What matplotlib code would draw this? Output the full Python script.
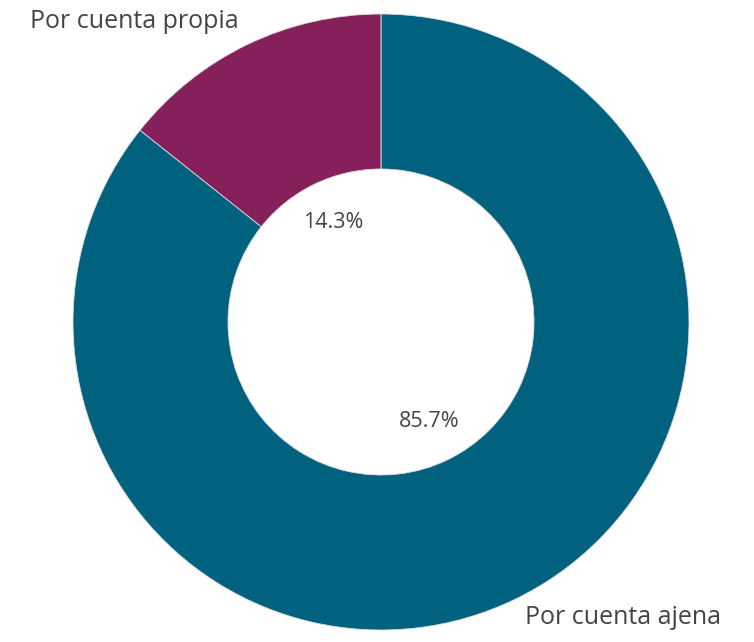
import matplotlib.pyplot as plt

# data
labels = ['Por cuenta ajena', 'Por cuenta propia']
values = [85.7, 14.3]
colors = ['#00627f', '#86205b']

W, H = 754, 642
fig = plt.figure(figsize=(W / 100, H / 100), dpi=100)
ax = fig.add_axes([0, 0, 1, 1])

# donut
cx, cy, r = 381, H - 322, 308
wedges, texts, autotexts = ax.pie(
    values, colors=colors, startangle=90, counterclock=False,
    radius=r, center=(cx, cy), frame=True,
    autopct='%.1f%%', pctdistance=0.36,
    wedgeprops=dict(width=155, edgecolor='#dddddd', linewidth=0.6),
    textprops=dict(fontsize=15.5, color='#444444', family='Open Sans'))
ax.set_xlim(0, W)
ax.set_ylim(0, H)
ax.set_aspect('equal')
ax.axis('off')

# outer labels
ax.text(30, H - 22, labels[1], ha='left', va='center', fontsize=18,
        color='#444444', family='Open Sans')
ax.text(525, H - 618, labels[0], ha='left', va='center', fontsize=18,
        color='#444444', family='Open Sans')

fig.savefig('out.png', dpi=100, facecolor='white')
